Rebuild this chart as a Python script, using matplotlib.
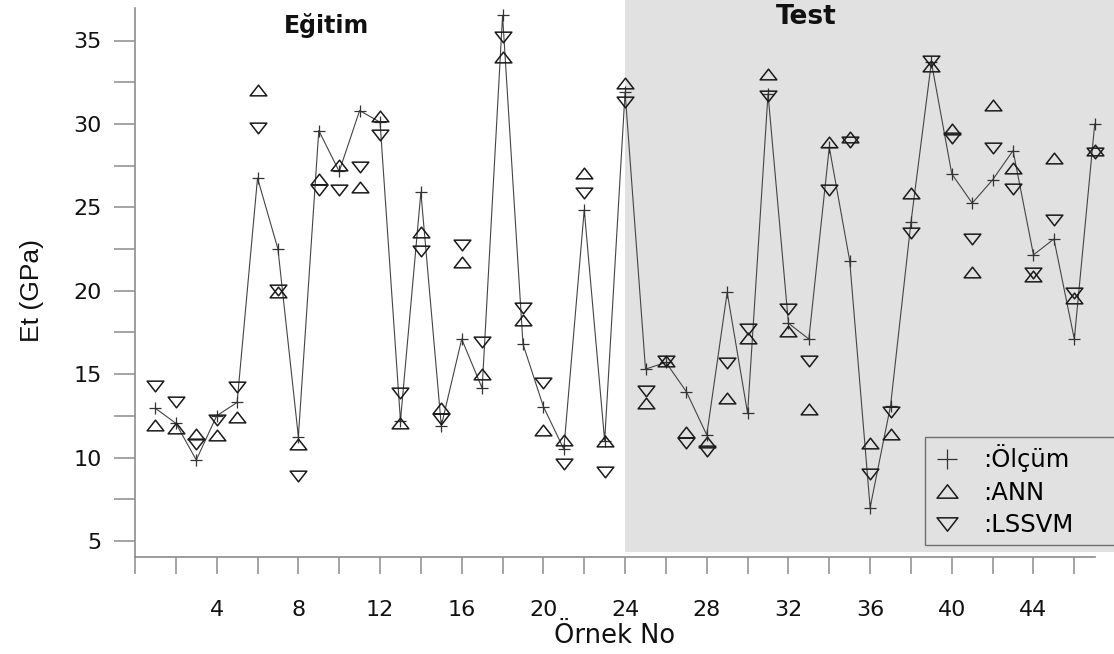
import matplotlib
matplotlib.use("Agg")
import matplotlib.pyplot as plt
import numpy as np
from matplotlib.path import Path
from matplotlib.lines import Line2D
from matplotlib.ticker import FixedLocator, FuncFormatter

# ---- data -------------------------------------------------------------
ornek_no = list(range(1, 48))
olcum = [12.95, 12.05, 9.85, 12.5, 13.3, 26.75, 22.5, 11.25, 29.6, 27.15,
         30.8, 30.1, 12.2, 25.9, 11.9, 17.1, 14.15, 36.5, 16.8, 13.05,
         10.5, 24.85, 11.0, 31.9, 15.3, 15.7, 13.95, 11.35, 19.9, 12.65,
         31.8, 18.05, 17.1, 28.6, 21.8, 7.0, 13.1, 24.1, 33.7, 27.0,
         25.25, 26.65, 28.4, 22.15, 23.1, 17.1, 30.0]
ann = [11.97, 11.77, 11.39, 11.33, 12.41, 32.03, 19.95, 10.81, 26.71, 27.54,
       26.24, 30.49, 12.05, 23.54, 12.95, 21.74, 14.99, 34.01, 18.24, 11.65,
       11.03, 27.08, 11.01, 32.45, 13.25, 15.8, 11.5, 10.95, 13.55, 17.15,
       32.99, 17.6, 12.9, 28.9, 29.23, 10.89, 11.43, 25.88, 33.45, 29.69,
       21.14, 31.11, 27.34, 20.9, 27.96, 19.54, 28.44]
lssvm = [14.29, 13.35, 10.79, 12.25, 14.24, 29.77, 20.05, 8.89, 26.06, 26.04,
         27.43, 29.33, 13.85, 22.4, 12.33, 22.74, 16.94, 35.19, 18.94, 14.45,
         9.61, 25.84, 9.11, 31.3, 13.99, 15.8, 10.85, 10.41, 15.65, 17.7,
         31.69, 18.9, 15.78, 26.02, 28.9, 9.03, 12.73, 23.44, 33.77, 29.14,
         23.1, 28.57, 26.12, 21.06, 24.22, 19.84, 28.24]
test_start = 24
y_ticks = [5, 10, 15, 20, 25, 30, 35]
x_labels = [4, 8, 12, 16, 20, 24, 28, 32, 36, 40, 44]
legend_labels = [":Ölçüm", ":ANN", ":LSSVM"]

# ---- markers (wide triangles, as in the reference) ---------------------
h = 0.64
tri_up = Path([(-1, -h), (1, -h), (0, h), (-1, -h)],
              [Path.MOVETO, Path.LINETO, Path.LINETO, Path.CLOSEPOLY])
tri_dn = Path([(-1, h), (1, h), (0, -h), (-1, h)],
              [Path.MOVETO, Path.LINETO, Path.LINETO, Path.CLOSEPOLY])

fig = plt.figure(figsize=(11.14, 6.54), dpi=100)
ax = fig.add_axes([135 / 1114, 97 / 654, 979 / 1114, 557 / 654])

ax.axvspan(test_start, 48, ymin=5 / 557, ymax=1, color="#e1e1e1", lw=0, zorder=0)

ax.plot(ornek_no, olcum, color="#444444", lw=0.8, marker="+", ms=9,
        mew=0.9, mec="#333333", zorder=3)
ax.plot(ornek_no, ann, ls="none", marker=tri_up, ms=12, mfc="none",
        mec="#1a1a1a", mew=1.1, zorder=4)
ax.plot(ornek_no, lssvm, ls="none", marker=tri_dn, ms=12, mfc="none",
        mec="#1a1a1a", mew=1.1, zorder=4)

ax.set_xlim(0, 979 / 20.42)
ax.set_ylim(35 - (557 - 40.5) / 16.68, 35 + 40.5 / 16.68)

for s in ["top", "right"]:
    ax.spines[s].set_visible(False)
for s in ["left", "bottom"]:
    ax.spines[s].set_color("#8c8c8c")
    ax.spines[s].set_linewidth(1.2)
ax.spines["bottom"].set_bounds(0, 47)
ax.spines["left"].set_bounds(ax.get_ylim()[0], 36.95)
ax.set_facecolor("none")

ax.yaxis.set_major_locator(FixedLocator(y_ticks))
ax.yaxis.set_minor_locator(FixedLocator([v + 2.5 for v in y_ticks[:-1]]))
ax.xaxis.set_major_locator(FixedLocator(list(range(0, 47, 2))))
ax.xaxis.set_major_formatter(FuncFormatter(
    lambda v, p: str(int(round(v))) if int(round(v)) in x_labels else ""))
ax.tick_params(axis="y", which="both", length=15, width=1.1, color="#8c8c8c",
               pad=9, labelsize=16)
ax.tick_params(axis="x", which="both", length=12, width=1.1, color="#8c8c8c",
               pad=19, labelsize=16)
for lab in ax.get_xticklabels() + ax.get_yticklabels():
    lab.set_fontfamily("DejaVu Sans")
    lab.set_color("#111111")

ax.set_xlabel("Örnek No", fontsize=18.5, family="DejaVu Sans", color="#111111",
              va="center")
ax.xaxis.set_label_coords(0.49, -0.142)
ax.set_ylabel("Et (GPa)", fontsize=19, family="Liberation Sans", color="#111111",
              va="center")
ax.yaxis.set_label_coords(-0.105, 0.479)

fig.text(327 / 1114, 1 - 25 / 654, "Eğitim", fontsize=17, fontweight="bold",
         family="DejaVu Sans", ha="center", va="center", color="#111111")
fig.text(806 / 1114, 1 - 17 / 654, "Test", fontsize=19, fontweight="bold",
         family="DejaVu Sans", ha="center", va="center", color="#111111")

handles = [
    Line2D([], [], ls="none", marker="+", ms=15, mew=0.9, mec="#333333"),
    Line2D([], [], ls="none", marker=tri_up, ms=15, mfc="none", mec="#1a1a1a", mew=1.1),
    Line2D([], [], ls="none", marker=tri_dn, ms=15, mfc="none", mec="#1a1a1a", mew=1.1),
]
leg = fig.legend(handles, legend_labels, loc="upper left",
                 bbox_to_anchor=(925 / 1114, 105 / 654, 0.3, 112 / 654),
                 bbox_transform=fig.transFigure, mode="expand",
                 borderaxespad=0, frameon=True, fancybox=False,
                 handlelength=1.2, handletextpad=0.9, borderpad=0.3,
                 labelspacing=0.35, prop={"family": "DejaVu Sans", "size": 17.5})
leg.get_frame().set_facecolor("#e1e1e1")
leg.get_frame().set_edgecolor("#6f6f6f")
leg.get_frame().set_linewidth(1.0)
leg.get_frame().set_alpha(1)

fig.savefig("out.png", dpi=100)
